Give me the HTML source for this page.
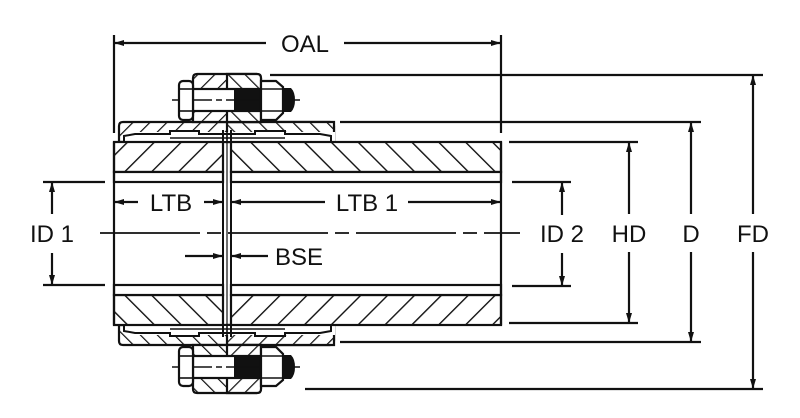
<!DOCTYPE html>
<html><head><meta charset="utf-8"><style>
html,body{margin:0;padding:0;background:#fff;width:800px;height:418px;overflow:hidden}
svg{display:block}
text{font-family:"Liberation Sans",sans-serif;font-size:24px;fill:#111}
</style></head><body>
<svg width="800" height="418" viewBox="0 0 800 418" xmlns="http://www.w3.org/2000/svg">
<defs>
<pattern id="hb" width="19" height="19" patternUnits="userSpaceOnUse" patternTransform="rotate(45)">
<rect width="19" height="19" fill="#fff"/><line x1="0" y1="0" x2="0" y2="19" stroke="#111" stroke-width="2.8"/></pattern>
<pattern id="hf" width="19" height="19" patternUnits="userSpaceOnUse" patternTransform="rotate(-45)">
<rect width="19" height="19" fill="#fff"/><line x1="0" y1="0" x2="0" y2="19" stroke="#111" stroke-width="2.8"/></pattern>
<pattern id="sb" width="12" height="12" patternUnits="userSpaceOnUse" patternTransform="rotate(45)">
<rect width="12" height="12" fill="#fff"/><line x1="0" y1="0" x2="0" y2="12" stroke="#111" stroke-width="2.4"/></pattern>
<pattern id="sf" width="12" height="12" patternUnits="userSpaceOnUse" patternTransform="rotate(-45)">
<rect width="12" height="12" fill="#fff"/><line x1="0" y1="0" x2="0" y2="12" stroke="#111" stroke-width="2.4"/></pattern>
<marker id="a" viewBox="0 0 10 6" refX="10" refY="3" markerWidth="11" markerHeight="6" orient="auto-start-reverse" markerUnits="userSpaceOnUse">
<path d="M0,0 L10,3 L0,6 z" fill="#111"/></marker>
<g id="half">
<path d="M119,142 L119,126 Q119,122 123,122 L330,122 Q334,122 334,126 L334,142 Z" fill="url(#sb)" stroke="#111" stroke-width="2.2"/>
<path d="M227,122 L334,122 L334,142 L227,142 Z" fill="url(#sf)" stroke="#111" stroke-width="2.2"/>
<rect x="135" y="132" width="200" height="9" fill="#fff" stroke="none"/>
<path d="M124,141 L124,136 L135,134 L170,134 L170,131 L199,131 L199,134 L255,134 L255,131 L285,131 L285,134 L320,134 L331,136 L331,141" fill="#fff" stroke="#111" stroke-width="2"/>
<line x1="170" y1="138" x2="285" y2="138" stroke="#111" stroke-width="1.4"/>
<path d="M193,122 L193,78 Q193,74 197,74 L257,74 Q261,74 261,78 L261,122 Z" fill="url(#sb)" stroke="#111" stroke-width="2.2"/>
<path d="M227,74 L257,74 Q261,74 261,78 L261,122 L227,122 Z" fill="url(#sf)" stroke="#111" stroke-width="2.2"/>
<line x1="227" y1="74" x2="227" y2="142" stroke="#111" stroke-width="1.5"/>
<rect x="193" y="89" width="68" height="22" fill="#fff" stroke="#111" stroke-width="2.2"/>
<rect x="234" y="89" width="27" height="22" fill="#111"/>
<line x1="172" y1="100" x2="300" y2="100" stroke="#111" stroke-width="1.6" stroke-dasharray="40 4 6 4"/>
<rect x="179" y="81" width="14" height="39" rx="4" fill="#fff" stroke="#111" stroke-width="2.2"/>
<line x1="179" y1="89" x2="193" y2="89" stroke="#111" stroke-width="1.6"/>
<line x1="179" y1="111" x2="193" y2="111" stroke="#111" stroke-width="1.6"/>
<path d="M261,81 L276,81 L283,87 L283,113 L276,120 L261,120 Z" fill="#fff" stroke="#111" stroke-width="2.2"/>
<line x1="261" y1="89" x2="283" y2="89" stroke="#111" stroke-width="1.6"/>
<line x1="261" y1="111" x2="283" y2="111" stroke="#111" stroke-width="1.6"/>
<path d="M283,88 L291,88 Q295,92 295,100 Q295,108 291,112 L283,112 Z" fill="#111"/>
<rect x="114" y="142" width="109" height="30" fill="url(#hb)" stroke="#111" stroke-width="2.2"/>
<rect x="231" y="142" width="270" height="30" fill="url(#hf)" stroke="#111" stroke-width="2.2"/>
<rect x="114" y="172" width="109" height="10" fill="#fff" stroke="#111" stroke-width="2.2"/>
<rect x="231" y="172" width="270" height="10" fill="#fff" stroke="#111" stroke-width="2.2"/>
</g>
</defs>
<use href="#half"/>
<use href="#half" transform="translate(0,467) scale(1,-1)"/>
<line x1="114" y1="142" x2="114" y2="325" stroke="#111" stroke-width="2.2"/>
<line x1="223" y1="130" x2="223" y2="337" stroke="#111" stroke-width="2"/>
<line x1="231" y1="130" x2="231" y2="337" stroke="#111" stroke-width="2"/>
<line x1="227" y1="130" x2="227" y2="337" stroke="#111" stroke-width="1.2"/>
<line x1="501" y1="142" x2="501" y2="325" stroke="#111" stroke-width="2.2"/>
<line x1="100" y1="233" x2="520" y2="233" stroke="#111" stroke-width="1.8" stroke-dasharray="100 7 14 7"/>
<g stroke="#111" stroke-width="2.2" fill="none">
<line x1="114" y1="35" x2="114" y2="133"/>
<line x1="501" y1="35" x2="501" y2="133"/>
<line x1="114" y1="43" x2="266" y2="43" marker-start="url(#a)"/>
<line x1="344" y1="43" x2="501" y2="43" marker-end="url(#a)"/>
<line x1="43" y1="182" x2="105" y2="182"/>
<line x1="43" y1="285" x2="105" y2="285"/>
<line x1="52" y1="214" x2="52" y2="182" marker-end="url(#a)"/>
<line x1="52" y1="253" x2="52" y2="285" marker-end="url(#a)"/>
<line x1="138" y1="202" x2="114" y2="202" marker-end="url(#a)"/>
<line x1="204" y1="202" x2="223" y2="202" marker-end="url(#a)"/>
<line x1="325" y1="202" x2="231" y2="202" marker-end="url(#a)"/>
<line x1="408" y1="202" x2="501" y2="202" marker-end="url(#a)"/>
<line x1="185" y1="256" x2="223" y2="256" marker-end="url(#a)"/>
<line x1="268" y1="256" x2="231" y2="256" marker-end="url(#a)"/>
<line x1="512" y1="182" x2="571" y2="182"/>
<line x1="512" y1="286" x2="571" y2="286"/>
<line x1="562" y1="215" x2="562" y2="182" marker-end="url(#a)"/>
<line x1="562" y1="253" x2="562" y2="286" marker-end="url(#a)"/>
<line x1="509" y1="142" x2="638" y2="142"/>
<line x1="509" y1="323" x2="638" y2="323"/>
<line x1="629" y1="214" x2="629" y2="142" marker-end="url(#a)"/>
<line x1="629" y1="252" x2="629" y2="323" marker-end="url(#a)"/>
<line x1="340" y1="122" x2="701" y2="122"/>
<line x1="340" y1="342" x2="701" y2="342"/>
<line x1="691" y1="214" x2="691" y2="122" marker-end="url(#a)"/>
<line x1="691" y1="252" x2="691" y2="342" marker-end="url(#a)"/>
<line x1="270" y1="75" x2="763" y2="75"/>
<line x1="305" y1="389" x2="763" y2="389"/>
<line x1="753" y1="214" x2="753" y2="75" marker-end="url(#a)"/>
<line x1="753" y1="252" x2="753" y2="389" marker-end="url(#a)"/>
</g>
<text x="305" y="52" text-anchor="middle">OAL</text>
<text x="52" y="242" text-anchor="middle">ID 1</text>
<text x="171" y="211" text-anchor="middle">LTB</text>
<text x="367" y="211" text-anchor="middle">LTB 1</text>
<text x="275" y="265">BSE</text>
<text x="562" y="242" text-anchor="middle">ID 2</text>
<text x="629" y="242" text-anchor="middle">HD</text>
<text x="691" y="242" text-anchor="middle">D</text>
<text x="753" y="242" text-anchor="middle">FD</text>
</svg>
</body></html>
